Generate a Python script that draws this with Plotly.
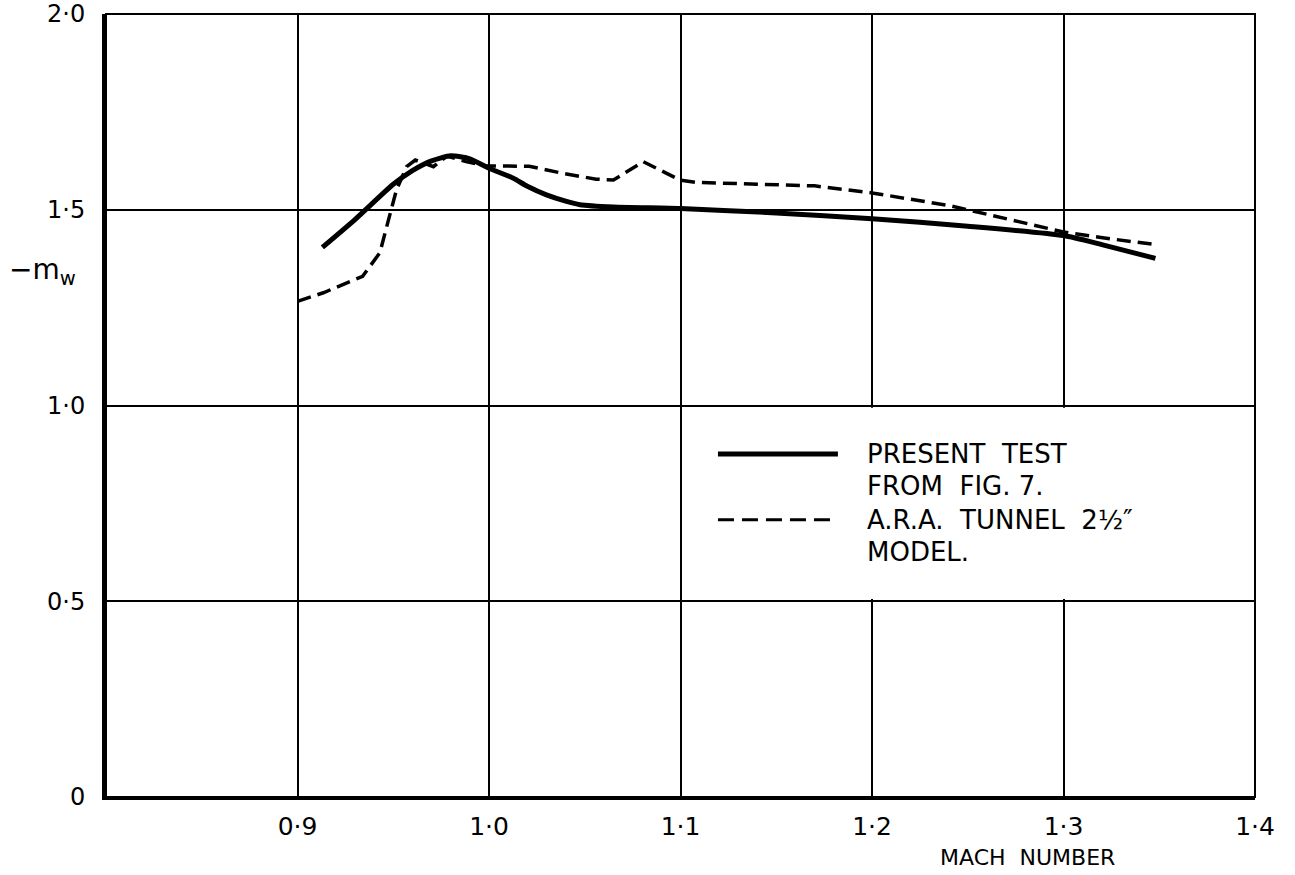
import plotly.graph_objects as go

# PRESENT TEST (from Fig. 7) - solid
present_mach = [0.913, 0.93, 0.95, 0.96, 0.97, 0.98, 0.99, 1.0, 1.0125, 1.02, 1.03, 1.04,
                1.0475, 1.065, 1.1, 1.15, 1.2, 1.25, 1.3, 1.32, 1.348]
present_mw = [1.404, 1.475, 1.565, 1.600, 1.625, 1.638, 1.630, 1.606, 1.581, 1.560, 1.538, 1.522,
              1.513, 1.507, 1.503, 1.492, 1.477, 1.458, 1.434, 1.411, 1.376]

# A.R.A. tunnel 2 1/2" model - dashed
ara_mach = [0.9, 0.9135, 0.934, 0.943, 0.948, 0.9517, 0.957, 0.9615, 0.971, 0.978, 0.988,
            0.9985, 1.021, 1.0385, 1.056, 1.065, 1.0805, 1.0997, 1.108, 1.126, 1.17, 1.2,
            1.24, 1.25, 1.28, 1.3, 1.3195, 1.348]
ara_mw = [1.266, 1.288, 1.330, 1.390, 1.483, 1.551, 1.610, 1.627, 1.610, 1.637, 1.623,
          1.612, 1.611, 1.593, 1.578, 1.576, 1.623, 1.576, 1.570, 1.568, 1.561, 1.543,
          1.511, 1.500, 1.465, 1.443, 1.429, 1.411]

x_tickvals = [0.9, 1.0, 1.1, 1.2, 1.3, 1.4]
x_ticktext = ["0·9", "1·0", "1·1", "1·2", "1·3", "1·4"]
y_tickvals = [0, 0.5, 1.0, 1.5, 2.0]
y_ticktext = ["0", "0·5", "1·0", "1·5", "2·0"]

legend_labels = ["PRESENT  TEST", "FROM  FIG. 7.", "A.R.A.  TUNNEL  2½″", "MODEL."]

FONT = "DejaVu Sans"

fig = go.Figure()
fig.add_trace(go.Scatter(x=present_mach, y=present_mw, mode="lines",
                         line=dict(color="black", width=5, shape="spline", smoothing=0.6),
                         showlegend=False))
fig.add_trace(go.Scatter(x=ara_mach, y=ara_mw, mode="lines",
                         line=dict(color="black", width=3.5, dash="14px,7px"), showlegend=False))

shapes = [
    # white panel behind legend hiding vertical grid lines
    dict(type="rect", xref="x", yref="y", x0=1.106, x1=1.397, y0=0.506, y1=0.994,
         fillcolor="white", line=dict(width=0), layer="between"),
    # frame
    dict(type="rect", xref="paper", yref="paper", x0=0, x1=1, y0=0, y1=1,
         line=dict(color="black", width=2), layer="above"),
    # legend samples
    dict(type="line", xref="paper", yref="paper", x0=0.5326, x1=0.637, y0=0.438, y1=0.438,
         line=dict(color="black", width=5)),
    dict(type="line", xref="paper", yref="paper", x0=0.5326, x1=0.637, y0=0.354, y1=0.354,
         line=dict(color="black", width=3, dash="16px,8px")),
]

legend_y = [0.438, 0.397, 0.354, 0.313]
annotations = []
for txt, yy in zip(legend_labels, legend_y):
    annotations.append(dict(xref="paper", yref="paper", x=0.6606, y=yy, text=txt,
                            showarrow=False, xanchor="left", yanchor="middle",
                            font=dict(family=FONT, size=26, color="black")))
annotations.append(dict(xref="paper", yref="paper", x=0.8016, y=-0.0777, text="MACH  NUMBER",
                        showarrow=False, xanchor="center", yanchor="middle",
                        font=dict(family=FONT, size=22, color="black")))
annotations.append(dict(xref="paper", yref="paper", x=-0.0557, y=0.671, text="−m<sub>w</sub>",
                        showarrow=False, xanchor="center", yanchor="middle",
                        font=dict(family=FONT, size=28, color="black")))

fig.update_layout(
    width=1295, height=875,
    margin=dict(l=106, r=40, t=14, b=78, autoexpand=False),
    plot_bgcolor="white", paper_bgcolor="white",
    shapes=shapes, annotations=annotations,
    xaxis=dict(range=[0.8, 1.4], tickvals=x_tickvals, ticktext=x_ticktext,
               showgrid=True, gridcolor="black", gridwidth=2, zeroline=False,
               showline=True, linecolor="black", linewidth=3, ticks="",
               ticklabelstandoff=5, ticklabeloverflow="allow", automargin=False,
               tickfont=dict(family=FONT, size=25, color="black")),
    yaxis=dict(range=[0, 2.0], tickvals=y_tickvals, ticktext=y_ticktext,
               showgrid=True, gridcolor="black", gridwidth=2, zeroline=False,
               showline=True, linecolor="black", linewidth=4, ticks="",
               ticklabelstandoff=12, ticklabeloverflow="allow", automargin=False,
               tickfont=dict(family=FONT, size=24, color="black")),
)

# remove the default page margin so the figure fills the window exactly
fig.write_html("out.html", config={"displayModeBar": False},
               post_script="document.body.style.margin='0';document.body.style.padding='0';")
